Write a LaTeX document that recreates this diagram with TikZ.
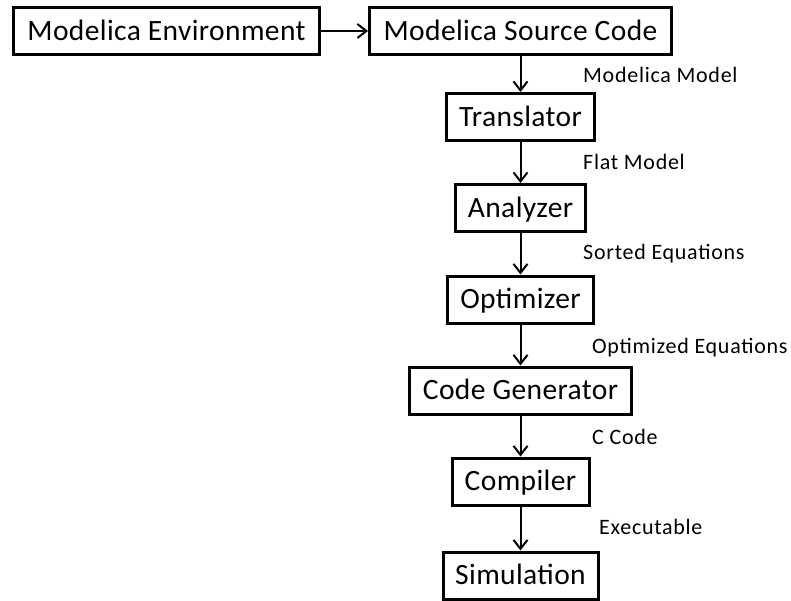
\documentclass[tikz,border=0pt]{standalone}
\usepackage{fontspec}
\setmainfont{Carlito}
\newfontfamily\boxfont[LetterSpace=1.3]{Carlito}
\newfontfamily\lblfont[LetterSpace=3.3]{Carlito}
\usetikzlibrary{arrows.meta}
\begin{document}
\begin{tikzpicture}[x=1pt,y=-1pt,
  stage/.style={draw, line width=3pt, inner sep=0pt, minimum height=47pt,
    text height=21.9pt, text depth=3.1pt,
    font=\boxfont\fontsize{29.5}{34}\selectfont},
  flow/.style={line width=2pt, -{Straight Barb[length=9pt,width=14pt]}},
  lbl/.style={anchor=base west, inner sep=0pt, font=\lblfont\fontsize{22}{26}\selectfont}]
\useasboundingbox (0,0) rectangle (791,600);

% processing stages
\node[stage, minimum width=306pt] (env)  at (166.5,31)  {Modelica Environment};
\node[stage, minimum width=302pt] (src)  at (520.5,31)  {Modelica Source Code};
\node[stage, minimum width=148pt] (trans) at (520.5,117) {Translator};
\node[stage, minimum width=130pt] (anal) at (520.5,208) {Analyzer};
\node[stage, minimum width=146pt] (opt)  at (520.5,299.5) {Optimizer};
\node[stage, minimum width=222pt] (gen)  at (520.5,390.5) {Code Generator};
\node[stage, minimum width=137pt] (comp) at (520.5,481.5) {Compiler};
\node[stage, minimum width=155pt] (sim)  at (520.5,575.5) {Simulation};

% data passed between stages
\node[lbl] (l1) at (583,82)  {Modelica Model};
\node[lbl] (l2) at (583,169) {Flat Model};
\node[lbl] (l3) at (583,259) {Sorted Equations};
\node[lbl] (l4) at (592,353) {Optimized Equations};
\node[lbl] (l5) at (592,444) {C Code};
\node[lbl] (l6) at (599,534) {Executable};

% connectors
\draw[flow] (env) -- (src);
\draw[flow] (src) -- (trans);
\draw[flow] (trans) -- (anal);
\draw[flow] (anal) -- (opt);
\draw[flow] (opt) -- (gen);
\draw[flow] (gen) -- (comp);
\draw[flow] (comp) -- (sim);
\end{tikzpicture}
\end{document}
